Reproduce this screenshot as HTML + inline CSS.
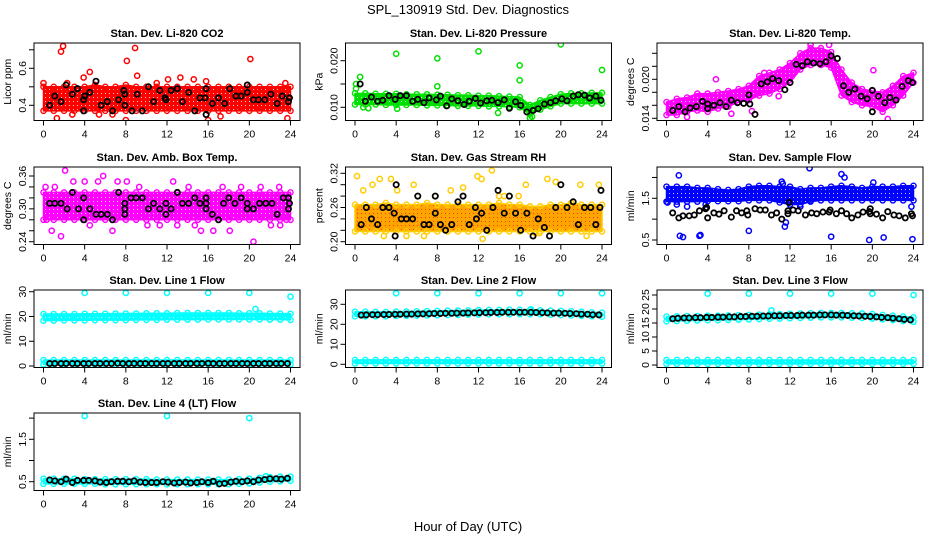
<!DOCTYPE html>
<html><head><meta charset="utf-8"><style>
html,body{margin:0;padding:0;background:#fff;}
svg{display:block;font-family:"Liberation Sans",sans-serif;}
</style></head><body>
<svg id="chart" width="936" height="540" viewBox="0 0 936 540" xmlns="http://www.w3.org/2000/svg">
<text x="468" y="14" text-anchor="middle" font-size="13">SPL_130919  Std. Dev. Diagnostics</text>
<text x="468" y="531" text-anchor="middle" font-size="13">Hour of Day (UTC)</text>
</svg>
<script>
// ---------- DATA ----------
const bandHours = [0,1,2,3,4,5,6,7,8,9,10,11,12,13,14,15,16,17,18,19,20,21,22,23,24];
const lineHours = [0.6,1.1,1.7,2.2,2.8,3.3,3.9,4.4,5.0,5.5,6.1,6.6,7.2,7.7,8.3,8.8,9.4,9.9,10.5,11.0,11.6,12.1,12.7,13.2,13.8,14.3,14.9,15.4,16.0,16.5,17.1,17.6,18.2,18.7,19.3,19.8,20.4,20.9,21.5,22.0,22.6,23.1,23.7];

// P1 CO2
const co2Lo = [0.37,0.37,0.37,0.37,0.37,0.37,0.37,0.37,0.37,0.37,0.37,0.37,0.37,0.37,0.37,0.37,0.37,0.37,0.37,0.37,0.37,0.37,0.37,0.37,0.37];
const co2Hi = [0.50,0.50,0.50,0.50,0.50,0.51,0.50,0.50,0.51,0.50,0.50,0.50,0.50,0.50,0.50,0.50,0.50,0.50,0.50,0.50,0.50,0.50,0.50,0.50,0.50];
const co2Out = [[1.7,0.69],[1.9,0.72],[8.9,0.71],[8.1,0.64],[9.1,0.56],[4.5,0.58],[13.3,0.55],[20.1,0.65],[3.9,0.55],[2.3,0.52],[14.6,0.54],[12.1,0.54],[16,0.32],[8,0.32],[1.3,0.33],[23.7,0.33],[15.8,0.53],[23.5,0.52],[0,0.52],[2.8,0.35],[19.8,0.51],[6.7,0.35],[11,0.52],[5.4,0.35],[17.2,0.34]];
const co2Blk = [[0.6,0.40],[1.1,0.45],[1.7,0.42],[2.2,0.51],[2.8,0.46],[3.3,0.49],[3.9,0.43],[3.9,0.37],[4,0.45],[4.5,0.47],[5.1,0.53],[5.6,0.40],[6.2,0.42],[6.7,0.37],[7.3,0.43],[7.9,0.40],[7.9,0.46],[7.8,0.48],[8.6,0.37],[9.1,0.46],[9.6,0.37],[10.2,0.50],[10.7,0.42],[11.3,0.48],[11.8,0.44],[11.9,0.43],[12.4,0.48],[13,0.49],[13.5,0.42],[14.1,0.47],[14.7,0.37],[15.2,0.44],[15.8,0.49],[15.8,0.35],[15.7,0.44],[16.4,0.41],[17,0.44],[17.6,0.41],[18.1,0.49],[18.7,0.45],[19.2,0.45],[19.8,0.47],[19.8,0.51],[20.4,0.43],[20.9,0.43],[21.5,0.43],[22.1,0.46],[22.7,0.41],[23.2,0.45],[23.8,0.42],[23.9,0.44]];

// P2 Pressure
const presLo = [0.0106,0.0106,0.0106,0.0105,0.0105,0.0105,0.0105,0.0104,0.0104,0.0104,0.0103,0.0103,0.0103,0.0102,0.0102,0.0101,0.0100,0.0085,0.0095,0.0102,0.0108,0.0108,0.0108,0.0108,0.0108];
const presHi = [0.0130,0.0130,0.0129,0.0129,0.0129,0.0128,0.0128,0.0128,0.0127,0.0127,0.0126,0.0126,0.0125,0.0125,0.0124,0.0123,0.0122,0.0105,0.0115,0.0122,0.0128,0.0130,0.0130,0.0131,0.0131];
const presOut = [[0.1,0.014],[0.1,0.015],[0.5,0.0165],[4,0.0215],[8,0.0205],[8,0.0145],[12,0.022],[16,0.019],[16,0.0158],[20,0.0235],[24,0.018],[0.8,0.0100],[1.3,0.0098],[4.1,0.0097],[13.9,0.0088],[17,0.0077],[17.2,0.0080]];
const presBlk = [[0.5,0.0150],[1.0,0.0113],[1.6,0.0122],[2.2,0.0113],[2.7,0.0115],[3.3,0.0125],[3.9,0.0117],[4.4,0.0125],[5,0.0125],[5.6,0.0113],[6.1,0.0117],[6.7,0.0110],[7.2,0.0120],[7.9,0.0116],[8.3,0.0124],[8.9,0.0103],[9.4,0.0118],[10,0.0114],[10.6,0.0106],[11.1,0.0113],[11.7,0.0119],[12.2,0.0109],[12.8,0.0114],[13.3,0.0115],[13.9,0.0110],[14.5,0.0116],[15,0.0098],[15.6,0.0112],[16.1,0.0104],[16.7,0.0090],[17.3,0.0093],[17.8,0.0097],[18.4,0.0107],[19,0.0110],[19.5,0.0114],[20.1,0.0118],[20.6,0.0114],[21.2,0.0124],[21.7,0.0127],[22.3,0.0126],[22.8,0.0120],[23.4,0.0124],[23.9,0.0115]];

// P3 Li-820 Temp
const tempLo = [0.0145,0.0145,0.0150,0.0152,0.0150,0.0155,0.0158,0.0165,0.0168,0.0175,0.0178,0.0185,0.0195,0.0215,0.0222,0.0222,0.0218,0.0175,0.0165,0.0160,0.0158,0.0150,0.0160,0.0175,0.0195];
const tempHi = [0.0165,0.0170,0.0172,0.0178,0.0178,0.0180,0.0182,0.0185,0.0190,0.0205,0.0210,0.0215,0.0225,0.0240,0.0248,0.0248,0.0242,0.0215,0.0195,0.0185,0.0182,0.0180,0.0190,0.0205,0.0210];
const tempOut = [[4.8,0.0200],[9.5,0.0210],[10.9,0.0174],[8.3,0.0151],[20.1,0.0214],[21.5,0.0139],[15.8,0.0253],[14.0,0.0253],[2,0.0142],[6.3,0.0147]];
const tempBlk = [[0.6,0.0152],[1.2,0.0158],[1.8,0.0150],[2.3,0.0156],[2.9,0.0158],[3.5,0.0166],[4,0.0155],[4,0.0162],[4.6,0.0160],[5.2,0.0164],[5.8,0.0158],[6.3,0.0168],[6.9,0.0164],[7.5,0.0163],[8.1,0.0162],[8,0.0176],[8.6,0.0146],[9.2,0.0193],[9.8,0.0196],[10.3,0.0201],[10.9,0.0198],[11.5,0.0184],[12,0.0195],[12.6,0.0223],[13.2,0.0221],[13.7,0.0227],[14.3,0.0225],[14.9,0.0224],[15.5,0.0227],[16,0.0236],[16.6,0.0232],[17.2,0.0190],[17.7,0.0180],[18.3,0.0185],[18.9,0.0174],[19.5,0.0170],[20,0.0183],[20,0.0150],[20.6,0.0174],[21.2,0.0164],[21.7,0.0172],[22.3,0.0168],[22.9,0.0189],[23.5,0.0198],[23.9,0.0195]];

// P4 Amb Box Temp
const ambLo = [0.28,0.28,0.28,0.28,0.28,0.28,0.28,0.28,0.28,0.28,0.28,0.28,0.28,0.28,0.28,0.28,0.28,0.28,0.28,0.28,0.28,0.28,0.28,0.28,0.28];
const ambHi = [0.33,0.33,0.33,0.33,0.33,0.33,0.33,0.33,0.33,0.33,0.33,0.33,0.33,0.33,0.33,0.33,0.33,0.33,0.33,0.33,0.33,0.33,0.33,0.33,0.33];
const ambOut = [[0.2,0.34],[0.3,0.28],[0.8,0.26],[1.7,0.25],[2.1,0.37],[2.9,0.35],[4,0.35],[4.5,0.27],[5.8,0.36],[6.7,0.26],[7.2,0.35],[8.1,0.35],[9.3,0.34],[10.1,0.27],[11.3,0.27],[13,0.27],[14.1,0.34],[14.7,0.27],[15.3,0.26],[16.5,0.26],[18.1,0.26],[19.2,0.34],[20.4,0.24],[21.1,0.34],[22.1,0.27],[23,0.27],[23.6,0.28],[1.1,0.34],[5.3,0.35],[12.6,0.35],[17.4,0.34],[22.9,0.34]];
const ambBlk = [[0.6,0.31],[1.1,0.31],[1.7,0.31],[2.3,0.30],[2.8,0.33],[3.4,0.30],[3.9,0.32],[3.9,0.28],[4.5,0.30],[5.1,0.29],[5.6,0.29],[6.2,0.29],[6.7,0.28],[7.3,0.33],[7.9,0.31],[7.9,0.30],[7.9,0.29],[8.5,0.32],[9,0.32],[9.6,0.32],[10.2,0.30],[10.7,0.31],[11.3,0.30],[11.9,0.31],[11.9,0.29],[12.4,0.30],[13,0.33],[13.5,0.31],[14.1,0.31],[14.7,0.32],[15.2,0.31],[15.8,0.31],[15.8,0.30],[15.8,0.32],[16.4,0.29],[17,0.28],[17.5,0.31],[18,0.32],[18.6,0.31],[19.2,0.32],[19.8,0.31],[19.8,0.30],[20.4,0.30],[21,0.31],[21.6,0.31],[22.2,0.31],[22.7,0.29],[23.3,0.32],[23.8,0.32],[23.9,0.31],[23.8,0.30]];

// P5 Gas Stream RH
const rhLo = [0.218,0.218,0.218,0.218,0.218,0.218,0.218,0.218,0.218,0.218,0.218,0.218,0.218,0.218,0.218,0.218,0.218,0.218,0.218,0.218,0.218,0.218,0.218,0.218,0.218];
const rhHi = [0.265,0.265,0.265,0.268,0.265,0.265,0.265,0.268,0.265,0.265,0.265,0.265,0.265,0.265,0.268,0.265,0.265,0.262,0.262,0.265,0.265,0.268,0.265,0.265,0.265];
const rhOut = [[0.2,0.315],[0.8,0.29],[1.7,0.30],[2.4,0.31],[3.5,0.31],[4.1,0.29],[5.7,0.30],[7.8,0.28],[9.3,0.29],[10.5,0.295],[11.9,0.315],[12.3,0.31],[13.3,0.325],[14,0.28],[14.5,0.28],[15.9,0.28],[16.6,0.30],[17.5,0.215],[17.9,0.215],[18.7,0.31],[19.5,0.305],[21.9,0.30],[23.7,0.30],[2.8,0.21],[6.7,0.21],[12.4,0.205],[22.5,0.21],[5,0.21]];
const rhBlk = [[0.6,0.23],[1.1,0.26],[1.6,0.24],[2.2,0.23],[2.7,0.26],[3.3,0.26],[3.8,0.25],[3.9,0.21],[4,0.30],[4.5,0.24],[5,0.24],[5.6,0.24],[6.1,0.28],[6.7,0.23],[7.2,0.23],[7.8,0.25],[7.8,0.28],[8.3,0.23],[8.8,0.22],[9.4,0.23],[10,0.27],[10.5,0.28],[11.1,0.23],[11.7,0.26],[11.8,0.24],[12.3,0.25],[12.8,0.22],[13.4,0.26],[13.9,0.29],[14.5,0.25],[15,0.28],[15.6,0.25],[16.1,0.22],[16.7,0.25],[17.3,0.21],[17.8,0.24],[18.4,0.225],[18.9,0.21],[19.5,0.26],[20.0,0.30],[20.6,0.26],[21.2,0.27],[21.7,0.23],[22.3,0.26],[22.9,0.26],[23.4,0.23],[23.9,0.29],[23.8,0.26]];

// P6 Sample Flow
const sfLo = [1.42,1.42,1.42,1.42,1.43,1.43,1.43,1.43,1.45,1.45,1.45,1.40,1.35,1.35,1.42,1.45,1.45,1.45,1.45,1.45,1.45,1.45,1.45,1.45,1.45];
const sfHi = [1.78,1.78,1.78,1.75,1.75,1.72,1.70,1.72,1.78,1.80,1.80,1.78,1.78,1.72,1.75,1.75,1.78,1.80,1.78,1.75,1.78,1.78,1.78,1.80,1.80];
const sfOut = [[1.2,2.05],[1.3,0.6],[1.6,0.57],[3.2,0.6],[3.3,0.62],[8,0.72],[11.2,1.9],[11.3,1.85],[11.5,0.82],[11.6,0.92],[13.9,2.22],[16,0.58],[17,2.08],[17.3,2.0],[19.7,0.5],[21.1,0.56],[23.9,0.52],[20.1,1.88],[0.1,1.4],[14,1.44],[13,1.3],[3.8,1.35],[23.8,1.3],[1.0,1.35],[2.0,1.3]];
const sfBlk = [[0.6,1.15],[1.2,1.03],[1.6,1.08],[2.2,1.08],[2.7,1.1],[3.2,1.2],[3.8,1.25],[3.9,1.28],[4,1.03],[4.6,1.15],[5.1,1.12],[5.6,1.2],[6.3,1.05],[6.8,1.2],[7.3,1.15],[7.8,1.2],[7.9,1.1],[8.6,1.25],[9.1,1.22],[9.6,1.22],[10.2,1.1],[10.7,1.15],[11.2,1.0],[11.8,1.2],[11.9,1.4],[11.8,1.13],[12.3,1.22],[12.8,1.2],[13.5,1.1],[14.1,1.15],[14.6,1.13],[15.2,1.17],[15.8,1.17],[15.9,1.22],[16.5,1.13],[17,1.2],[17.5,1.13],[18,1.03],[18.6,1.1],[19.1,1.17],[19.7,1.18],[19.8,1.13],[19.8,1.25],[20.4,1.12],[21,1.03],[21.5,1.18],[22.1,1.1],[22.6,1.08],[23.2,1.03],[23.8,1.13],[23.9,1.08]];

// P7 Line 1 Flow
const l1HighLo = [18.3,18.3,18.4,18.4,18.4,18.5,18.5,18.5,18.5,18.6,18.6,18.6,18.7,18.7,18.7,18.7,18.8,18.8,18.8,18.8,18.8,18.8,18.7,18.7,18.6];
const l1HighHi = [21.0,21.0,21.0,21.0,21.1,21.1,21.1,21.2,21.2,21.2,21.3,21.3,21.3,21.4,21.4,21.4,21.4,21.4,21.4,21.3,21.3,21.3,21.2,21.2,21.1];
const l1LowLo = [0.6,0.6,0.6,0.6,0.6,0.6,0.6,0.6,0.6,0.6,0.6,0.6,0.6,0.6,0.6,0.6,0.6,0.6,0.6,0.6,0.6,0.6,0.6,0.6,0.6];
const l1LowHi = [2.4,2.4,2.4,2.4,2.4,2.4,2.4,2.4,2.4,2.4,2.4,2.4,2.4,2.4,2.4,2.4,2.4,2.4,2.4,2.4,2.4,2.4,2.4,2.4,2.4];
const l1Out = [[4,29.5],[8,29.5],[12,29.5],[16,29.5],[20,29.5],[24,28],[20.6,23]];
const l1Blk = [1.0,1.0,1.0,1.0,1.0,1.0,1.0,1.0,1.0,1.0,1.0,1.0,1.1,1.0,1.0,1.0,1.0,1.0,1.0,1.0,1.0,1.0,1.0,1.0,1.0,1.0,1.0,1.0,1.1,1.0,1.0,1.0,1.0,1.0,1.0,1.0,1.0,1.0,1.0,1.0,1.0,1.0,1.0];

// P8 Line 2 Flow
const l2HighLo = [24.0,24.0,24.0,24.0,24.2,24.2,24.3,24.4,24.5,24.6,24.7,24.8,24.9,25.0,25.0,25.0,25.0,25.0,25.0,24.8,24.6,24.4,24.2,24.0,23.8];
const l2HighHi = [26.3,26.3,26.2,26.2,26.3,26.4,26.5,26.6,26.7,26.8,26.9,27.0,27.1,27.2,27.2,27.3,27.3,27.2,27.0,26.8,26.7,26.5,26.3,26.0,25.8];
const l2LowLo = [0.4,0.4,0.4,0.4,0.4,0.4,0.4,0.4,0.4,0.4,0.4,0.4,0.4,0.4,0.4,0.4,0.4,0.4,0.4,0.4,0.4,0.4,0.4,0.4,0.4];
const l2LowHi = [2.2,2.2,2.2,2.2,2.2,2.2,2.2,2.2,2.2,2.2,2.2,2.2,2.2,2.2,2.2,2.2,2.2,2.2,2.2,2.2,2.2,2.2,2.2,2.2,2.2];
const l2Out = [[4,35.5],[8,35.5],[12,35.5],[16,35.5],[20,35.5],[24,35.5],[17.1,27.5]];
const l2Blk = [24.6,24.7,24.8,24.8,24.9,24.9,25.0,25.0,25.1,25.1,25.2,25.2,25.3,25.4,25.4,25.5,25.5,25.6,25.6,25.7,25.7,25.8,25.8,25.9,25.9,26.0,26.0,26.0,26.0,26.0,26.0,25.9,25.8,25.7,25.6,25.6,25.5,25.4,25.3,25.1,25.0,24.8,24.7];

// P9 Line 3 Flow
const l3HighLo = [15.6,15.7,15.8,15.9,16.0,16.0,16.1,16.2,16.3,16.4,16.5,16.6,16.7,16.8,16.9,17.0,17.0,17.0,16.9,16.8,16.6,16.3,16.0,15.7,15.4];
const l3HighHi = [17.3,17.4,17.5,17.5,17.6,17.6,17.7,17.8,17.9,18.0,18.1,18.2,18.3,18.4,18.5,18.6,18.6,18.6,18.5,18.4,18.2,17.9,17.6,17.3,17.0];
const l3LowLo = [0.4,0.4,0.4,0.4,0.4,0.4,0.4,0.4,0.4,0.4,0.4,0.4,0.4,0.4,0.4,0.4,0.4,0.4,0.4,0.4,0.4,0.4,0.4,0.4,0.4];
const l3LowHi = [1.8,1.8,1.8,1.8,1.8,1.8,1.8,1.8,1.8,1.8,1.8,1.8,1.8,1.8,1.8,1.8,1.8,1.8,1.8,1.8,1.8,1.8,1.8,1.8,1.8];
const l3Out = [[4,25.5],[8,25.5],[12,25.5],[16,25.5],[20,25.5],[24,25],[10.2,19.5]];
const l3Blk = [16.5,16.7,16.8,16.8,16.9,16.9,17.0,17.0,17.1,17.1,17.2,17.2,17.3,17.3,17.4,17.4,17.5,17.5,17.6,17.6,17.7,17.7,17.7,17.8,17.8,17.8,17.9,17.9,17.9,17.8,17.8,17.7,17.6,17.5,17.4,17.3,17.2,17.0,16.9,16.7,16.5,16.3,16.1];

// P10 Line 4 (LT) Flow
const l4Lo = [0.45,0.45,0.45,0.45,0.45,0.45,0.44,0.44,0.44,0.44,0.44,0.44,0.44,0.44,0.44,0.44,0.44,0.44,0.44,0.45,0.46,0.48,0.50,0.51,0.52];
const l4Hi = [0.57,0.57,0.57,0.57,0.56,0.56,0.56,0.56,0.56,0.56,0.56,0.55,0.55,0.55,0.55,0.55,0.55,0.55,0.55,0.56,0.57,0.59,0.61,0.62,0.62];
const l4Out = [[4,2.05],[12,2.05],[20,2.0],[21.6,0.63]];
const l4Blk = [0.54,0.52,0.50,0.56,0.48,0.53,0.53,0.53,0.52,0.49,0.48,0.50,0.51,0.51,0.50,0.52,0.49,0.48,0.48,0.48,0.50,0.49,0.47,0.48,0.49,0.47,0.48,0.50,0.48,0.51,0.45,0.46,0.49,0.51,0.50,0.52,0.50,0.54,0.55,0.57,0.57,0.56,0.58];

// ---------- RENDER ----------
const NS = 'http://www.w3.org/2000/svg';
const svg = document.getElementById('chart');
function mk(tag, attrs, parent) {
  const el = document.createElementNS(NS, tag);
  for (const k in attrs) el.setAttribute(k, attrs[k]);
  (parent || svg).appendChild(el);
  return el;
}
const colX = [34, 345.5, 657];
const rowY = [43, 167, 290, 413];
const PW = 266, PH = 77.5;

const panels = [
  {name:'co2', title:'Stan. Dev. Li-820 CO2', ylab:'Licor ppm', c:0, r:0, col:'#ff0000', a:[0.4,62.3,0.6,25.3], ticks:[0.4,0.5,0.6,0.7], labels:['0.4','','0.6',''], bands:[[co2Lo,co2Hi]], out:co2Out, blk:co2Blk},
  {name:'pressure', title:'Stan. Dev. Li-820 Pressure', ylab:'kPa', c:1, r:0, col:'#00e000', a:[0.010,64.3,0.020,17.7], ticks:[0.010,0.015,0.020], labels:['0.010','','0.020'], bands:[[presLo,presHi]], out:presOut, blk:presBlk},
  {name:'li820-temp', title:'Stan. Dev. Li-820 Temp.', ylab:'degrees C', c:2, r:0, col:'#ff00ff', a:[0.014,75.3,0.020,36.3], ticks:[0.014,0.016,0.018,0.020,0.022,0.024], labels:['0.014','','','0.020','',''], bands:[[tempLo,tempHi]], out:tempOut, blk:tempBlk},
  {name:'amb-box-temp', title:'Stan. Dev. Amb. Box Temp.', ylab:'degrees C', c:0, r:1, col:'#ff00ff', a:[0.24,74.7,0.36,9], ticks:[0.24,0.26,0.28,0.30,0.32,0.34,0.36], labels:['0.24','','','0.30','','','0.36'], bands:[[ambLo,ambHi]], out:ambOut, blk:ambBlk},
  {name:'gas-stream-rh', title:'Stan. Dev. Gas Stream RH', ylab:'percent', c:1, r:1, col:'#ffa500', ring:'#ffcc00', a:[0.20,74.7,0.32,6.3], ticks:[0.20,0.22,0.24,0.26,0.28,0.30,0.32], labels:['0.20','','','0.26','','','0.32'], bands:[[rhLo,rhHi]], out:rhOut, blk:rhBlk},
  {name:'sample-flow', title:'Stan. Dev. Sample Flow', ylab:'ml/min', c:2, r:1, col:'#0000ff', a:[0.5,73,1.5,31.3], ticks:[0.5,1.0,1.5,2.0], labels:['0.5','','1.5',''], bands:[[sfLo,sfHi]], out:sfOut, blk:sfBlk},
  {name:'line1-flow', title:'Stan. Dev. Line 1 Flow', ylab:'ml/min', c:0, r:2, col:'#00ffff', a:[0,76,30,1.7], ticks:[0,10,20,30], labels:['0','10','20','30'], bands:[[l1HighLo,l1HighHi],[l1LowLo,l1LowHi]], out:l1Out, blkv:l1Blk},
  {name:'line2-flow', title:'Stan. Dev. Line 2 Flow', ylab:'ml/min', c:1, r:2, col:'#00ffff', a:[0,74.3,30,14.3], ticks:[0,10,20,30], labels:['0','10','20','30'], bands:[[l2HighLo,l2HighHi],[l2LowLo,l2LowHi]], out:l2Out, blkv:l2Blk},
  {name:'line3-flow', title:'Stan. Dev. Line 3 Flow', ylab:'ml/min', c:2, r:2, col:'#00ffff', a:[0,75,25,5], ticks:[0,5,10,15,20,25], labels:['0','5','10','15','20','25'], bands:[[l3HighLo,l3HighHi],[l3LowLo,l3LowHi]], out:l3Out, blkv:l3Blk},
  {name:'line4-flow', title:'Stan. Dev. Line 4 (LT) Flow', ylab:'ml/min', c:0, r:3, col:'#00ffff', a:[0.5,68.7,1.5,26.3], ticks:[0.5,1.0,1.5,2.0], labels:['0.5','','1.5',''], bands:[[l4Lo,l4Hi]], out:l4Out, blkv:l4Blk}
];
const xTicks = [0,4,8,12,16,20,24];

const defs = mk('defs', {});
panels.forEach(p => {
  const pat = mk('pattern', {id: 'pat-' + p.name, width: 4, height: 4, patternUnits: 'userSpaceOnUse'}, defs);
  mk('rect', {x: 0, y: 0, width: 4, height: 4, fill: p.col}, pat);
  mk('rect', {x: 1, y: 1, width: 1, height: 1, fill: p.ring ? '#ff2000' : '#ffffff', opacity: 0.8}, pat);
});

panels.forEach(p => {
  const L = colX[p.c], T = rowY[p.r];
  const xs = h => L + 9.5 + h / 24 * 247;
  const ys = v => T + p.a[1] + (v - p.a[0]) / (p.a[2] - p.a[0]) * (p.a[3] - p.a[1]);
  const g = mk('g', {});
  
  
  const clipId = 'clip-' + p.name;
  const cp = mk('clipPath', {id: clipId}, g);
  mk('rect', {x: L, y: T, width: PW, height: PH}, cp);

  const t = mk('text', {x: L + PW / 2, y: T - 6, 'text-anchor': 'middle', 'font-size': '11', 'font-weight': 'bold'}, g);
  t.textContent = p.title;
  
  

  const yl = mk('text', {transform: `translate(${L - 23},${T + PH / 2}) rotate(-90)`, 'text-anchor': 'middle', 'font-size': '10.5'}, g);
  yl.textContent = p.ylab;
  
  

  const data = mk('g', {'clip-path': `url(#${clipId})`}, g);
  
  

  // dense bands
  p.bands.forEach(([lo, hi]) => {
    let pts = bandHours.map((h, i) => xs(h) + ',' + ys(hi[i]));
    pts = pts.concat(bandHours.map((h, i) => xs(h) + ',' + ys(lo[i])).reverse());
    const band = mk('polygon', {points: pts.join(' '), fill: `url(#pat-${p.name})`, stroke: p.ring || p.col, 'stroke-width': '1.5', 'stroke-linejoin': 'round'}, data);
    
    
    // ragged ring edges along the band
    bandHours.forEach((h, i) => {
      [lo[i], hi[i]].forEach(v => {
        const c1 = mk('circle', {cx: xs(h), cy: ys(v), r: 2.6, fill: 'none', stroke: p.ring || p.col, 'stroke-width': 1.4}, data);
        
        
      });
    });
  });
  // outlier points
  p.out.forEach(([h, v]) => {
    const c = mk('circle', {cx: xs(h), cy: ys(v), r: 2.6, fill: 'none', stroke: p.ring || p.col, 'stroke-width': 1.5}, data);
    
    
  });
  // black series
  const blk = p.blk ? p.blk : p.blkv.map((v, i) => [lineHours[i], v]);
  blk.forEach(([h, v]) => {
    const c = mk('circle', {cx: xs(h), cy: ys(v), r: 2.6, fill: 'none', stroke: '#000', 'stroke-width': 1.8}, data);
    
    
  });

  // frame
  const fr = mk('rect', {x: L, y: T, width: PW, height: PH, fill: 'none', stroke: '#000', 'stroke-width': 1}, g);
  
  

  // y ticks
  p.ticks.forEach((v, i) => {
    const y = ys(v);
    const tk = mk('line', {x1: L - 5, x2: L, y1: y, y2: y, stroke: '#000'}, g);
    
    
    if (p.labels[i]) {
      const tl = mk('text', {transform: `translate(${L - 8},${y}) rotate(-90)`, 'text-anchor': 'middle', 'font-size': '10.5'}, g);
      tl.textContent = p.labels[i];
      
      
    }
  });
  // x ticks
  xTicks.forEach(h => {
    const x = xs(h);
    const tk = mk('line', {x1: x, x2: x, y1: T + PH, y2: T + PH + 5, stroke: '#000'}, g);
    
    
    const tl = mk('text', {x: x, y: T + PH + 17, 'text-anchor': 'middle', 'font-size': '10.5'}, g);
    tl.textContent = String(h);
    
    
  });
});
</script>
</body></html>
